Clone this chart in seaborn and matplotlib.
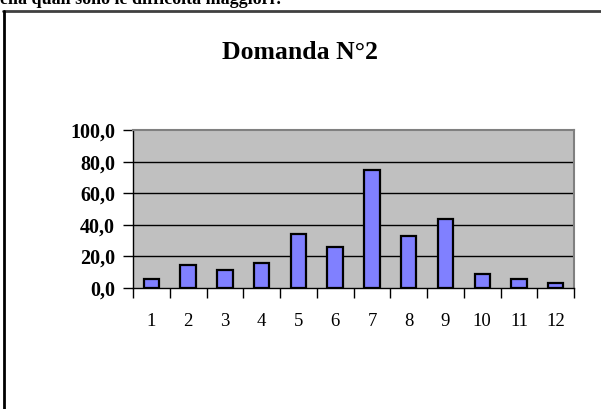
import matplotlib
matplotlib.use("Agg")
import matplotlib.pyplot as plt
from matplotlib.lines import Line2D
from matplotlib.ticker import FixedLocator
import pandas as pd
import seaborn as sns

risposte = ['1', '2', '3', '4', '5', '6', '7', '8', '9', '10', '11', '12']
percentuali = [5.9, 14.3, 11.2, 16.0, 33.9, 25.9, 74.7, 33.1, 44.0, 9.1, 5.9, 3.2]
y_ticks = [0, 20, 40, 60, 80, 100]

d = pd.DataFrame({'Risposta': risposte, 'Percentuale': percentuali})

sns.set_theme(style="white")
plt.rcParams['font.family'] = ['Liberation Serif', 'DejaVu Serif']
plt.rcParams['text.color'] = 'black'
plt.rcParams['xtick.color'] = 'black'
plt.rcParams['ytick.color'] = 'black'

fig = plt.figure(figsize=(6.01, 4.09), dpi=100)
ax = fig.add_axes([0.2213, 0.2958, 0.734, 0.386])
ax.set_facecolor('#c0c0c0')

sns.barplot(data=d, x='Risposta', y='Percentuale', color='#8080ff', saturation=1,
            width=0.42, edgecolor='black', linewidth=1.6, ax=ax, zorder=3)

ax.set_ylim(0, 100)
ax.set_xlim(-0.5, len(risposte) - 0.5)
ax.yaxis.set_major_locator(FixedLocator(y_ticks))
ax.set_yticklabels([('%.1f' % v).replace('.', ',') for v in y_ticks], fontweight='bold', fontsize=14.5)
for v in y_ticks[1:-1]:
    ax.axhline(v, color='black', linewidth=1, zorder=1)

ax.set_xlabel('')
ax.set_ylabel('')
ax.set_xticks(range(len(risposte)))
ax.set_xticklabels(risposte)
ax.xaxis.set_minor_locator(FixedLocator([i - 0.5 for i in range(len(risposte) + 1)]))
ax.tick_params(axis='x', which='major', length=0, pad=18, labelsize=13.5)
ax.tick_params(axis='x', which='minor', length=7, width=1, color='black', direction='out', bottom=True)
ax.tick_params(axis='y', length=7, width=1, color='black', direction='out', left=True, pad=6)

for side in ['top', 'right']:
    ax.spines[side].set_color('#808080')
    ax.spines[side].set_linewidth(1.5)
for side in ['left', 'bottom']:
    ax.spines[side].set_color('black')
    ax.spines[side].set_linewidth(1)

fig.text(0.5, 0.872, 'Domanda N°2', ha='center', va='center', fontsize=18.5, fontweight='bold')
fig.text(0.0, 1.0, 'ella quali sono le difficoltà maggiori?', ha='left', va='center',
         fontsize=13, fontweight='bold')

# cornice esterna
fig.add_artist(Line2D([0.005, 1.0], [1 - 11 / 409, 1 - 11 / 409], color='#404040', linewidth=2))
fig.add_artist(Line2D([0.006, 0.006], [0.0, 1 - 11 / 409], color='black', linewidth=2))

fig.savefig('out.png', dpi=100)
